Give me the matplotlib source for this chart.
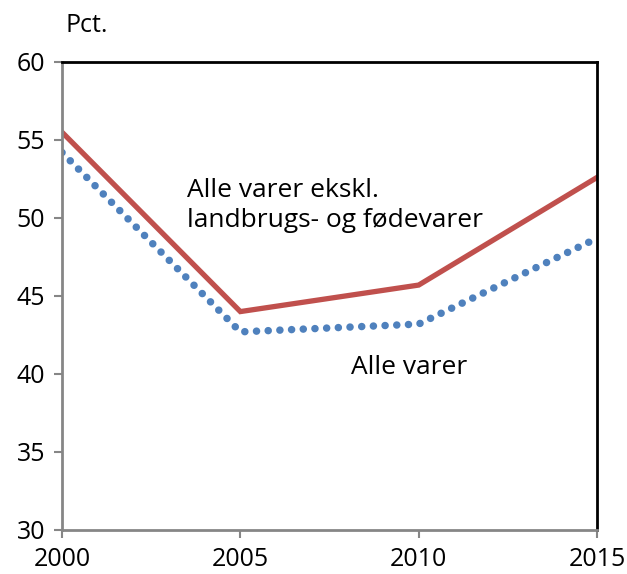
import matplotlib
matplotlib.use("Agg")
import matplotlib.pyplot as plt

years = [2000, 2005, 2010, 2015]
# Alle varer ekskl. landbrugs- og fødevarer
excl_food = [55.5, 44.0, 45.7, 52.6]
# Alle varer
all_goods = [54.2, 42.7, 43.2, 48.7]

y_ticks = [30, 35, 40, 45, 50, 55, 60]
x_ticks = [2000, 2005, 2010, 2015]

plt.rcParams["font.family"] = ["Open Sans", "DejaVu Sans"]

fig = plt.figure(figsize=(6.27, 5.74), dpi=100)
ax = fig.add_axes([0.0989, 0.0767, 0.8533, 0.8153])

ax.plot(years, excl_food, color="#C0504D", linewidth=3.8, solid_joinstyle="miter")
ax.plot(years, all_goods, color="#4F81BD", linewidth=5.4,
        linestyle=(0, (0.01, 1.55)), dash_capstyle="round")

ax.set_xlim(2000, 2015)
ax.set_ylim(30, 60)
ax.set_xticks(x_ticks)
ax.set_yticks(y_ticks)
ax.tick_params(labelsize=18, length=6, width=1.5, color="#868686", pad=6)

for side in ["left", "bottom"]:
    ax.spines[side].set_color("#868686")
    ax.spines[side].set_linewidth(2)
for side in ["top", "right"]:
    ax.spines[side].set_color("black")
    ax.spines[side].set_linewidth(2)

ax.text(2003.5, 50.8, "Alle varer ekskl.\nlandbrugs- og fødevarer",
        fontsize=19, va="center", ha="left", linespacing=1.3)
ax.text(2008.1, 40.4, "Alle varer", fontsize=19, va="center", ha="left")
fig.text(0.104, 0.956, "Pct.", fontsize=18, va="center", ha="left")

fig.savefig("out.png", dpi=100)
plt.close(fig)
